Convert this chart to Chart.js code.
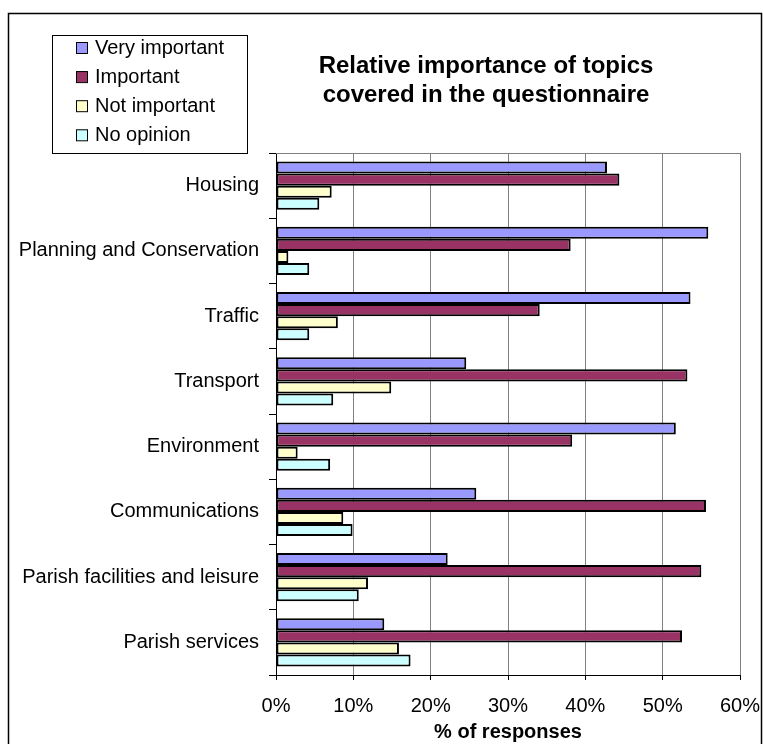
<!DOCTYPE html>
<html>
<head>
<meta charset="utf-8">
<script src="https://cdn.jsdelivr.net/npm/chart.js@4/dist/chart.umd.min.js"></script>
<style>
    html, body { margin: 0; padding: 0; background: #fff; }
    #wrap { width: 763px; height: 744px; position: relative; }
</style>
</head>
<body>
<div id="wrap"><canvas id="chart" width="763" height="744"></canvas></div>
<script>
const FONT = "'Liberation Sans', Arial, sans-serif";

const topics = [
    "Housing",
    "Planning and Conservation",
    "Traffic",
    "Transport",
    "Environment",
    "Communications",
    "Parish facilities and leisure",
    "Parish services",
];
const veryImportant = [42.8, 55.9, 53.6, 24.6, 51.7, 25.9, 22.2, 14.0];
const important = [44.4, 38.1, 34.1, 53.2, 38.3, 55.6, 55.0, 52.5];
const notImportant = [7.2, 1.6, 8.0, 14.9, 2.8, 8.7, 11.9, 15.9];
const noOpinion = [5.6, 4.3, 4.3, 7.4, 7.0, 9.9, 10.7, 17.4];
const titleLines = ["Relative importance of topics", "covered in the questionnaire"];
const xTitle = "% of responses";

function series(label, data, color) {
    return {
        label: label,
        data: data,
        backgroundColor: color,
        borderColor: "#000",
        borderWidth: 2,
        borderSkipped: false,
        categoryPercentage: 0.74,
        barPercentage: 1.0,
    };
}

// draws frame, title, legend box and the top edge of the plot
const decorations = {
    id: "decorations",
    afterDraw(chart) {
        const ctx = chart.ctx;
        const area = chart.chartArea;
        ctx.save();

        // outer frame (bottom runs off the picture)
        ctx.strokeStyle = "#000";
        ctx.lineWidth = 1.5;
        ctx.beginPath();
        ctx.moveTo(8.5, 744);
        ctx.lineTo(8.5, 13.5);
        ctx.lineTo(761.5, 13.5);
        ctx.lineTo(761.5, 744);
        ctx.stroke();

        // plot top edge
        ctx.strokeStyle = "#808080";
        ctx.lineWidth = 1;
        ctx.beginPath();
        ctx.moveTo(area.left, Math.round(area.top) + 0.5);
        ctx.lineTo(area.right, Math.round(area.top) + 0.5);
        ctx.stroke();

        // title
        ctx.fillStyle = "#000";
        ctx.font = "bold 24px " + FONT;
        ctx.textAlign = "center";
        ctx.textBaseline = "alphabetic";
        ctx.fillText(titleLines[0], 486, 73);
        ctx.fillText(titleLines[1], 486, 102);

        // legend
        ctx.strokeStyle = "#000";
        ctx.lineWidth = 1;
        ctx.strokeRect(52.5, 35.5, 195, 118);
        ctx.font = "20px " + FONT;
        ctx.textAlign = "left";
        chart.data.datasets.forEach((ds, i) => {
            const base = 54 + i * 29.1;
            ctx.fillStyle = ds.backgroundColor;
            ctx.fillRect(76, base - 12, 11, 11);
            ctx.strokeRect(76.5, base - 11.5, 11, 11);
            ctx.fillStyle = "#000";
            ctx.fillText(ds.label, 95, base);
        });
        ctx.restore();
    },
};

const ctx = document.getElementById("chart").getContext("2d");
new Chart(ctx, {
    type: "bar",
    data: {
        labels: topics,
        datasets: [
            series("Very important", veryImportant, "#9999FF"),
            series("Important", important, "#993366"),
            series("Not important", notImportant, "#FFFFCC"),
            series("No opinion", noOpinion, "#CCFFFF"),
        ],
    },
    options: {
        indexAxis: "y",
        responsive: false,
        animation: false,
        layout: {
            padding: { top: 153, right: 23, left: 0, bottom: 0 },
        },
        plugins: {
            legend: { display: false },
            title: { display: false },
            tooltip: { enabled: false },
        },
        scales: {
            x: {
                min: 0,
                max: 60,
                ticks: {
                    stepSize: 10,
                    color: "#000",
                    font: { family: FONT, size: 20 },
                    padding: 14,
                    callback: (v) => v + "%",
                },
                grid: {
                    color: "#808080",
                    tickColor: "#000",
                    tickLength: 5,
                    lineWidth: 1,
                },
                border: { color: "#000", width: 1 },
                title: {
                    display: true,
                    text: xTitle,
                    color: "#000",
                    font: { family: FONT, size: 20, weight: "bold" },
                    padding: { top: 0, bottom: 0 },
                },
                afterFit: (scale) => {
                    scale.height = 69;
                    scale.paddingLeft = 0;
                    scale.paddingRight = 0;
                },
            },
            y: {
                ticks: {
                    color: "#000",
                    font: { family: FONT, size: 20 },
                    padding: 10,
                },
                grid: {
                    drawOnChartArea: false,
                    tickColor: "#000",
                    tickLength: 7,
                    offset: true,
                },
                border: { color: "#000", width: 1 },
                afterFit: (scale) => {
                    scale.width = 276;
                    scale.paddingTop = 0;
                    scale.paddingBottom = 0;
                },
            },
        },
    },
    plugins: [decorations],
});
</script>
</body>
</html>
